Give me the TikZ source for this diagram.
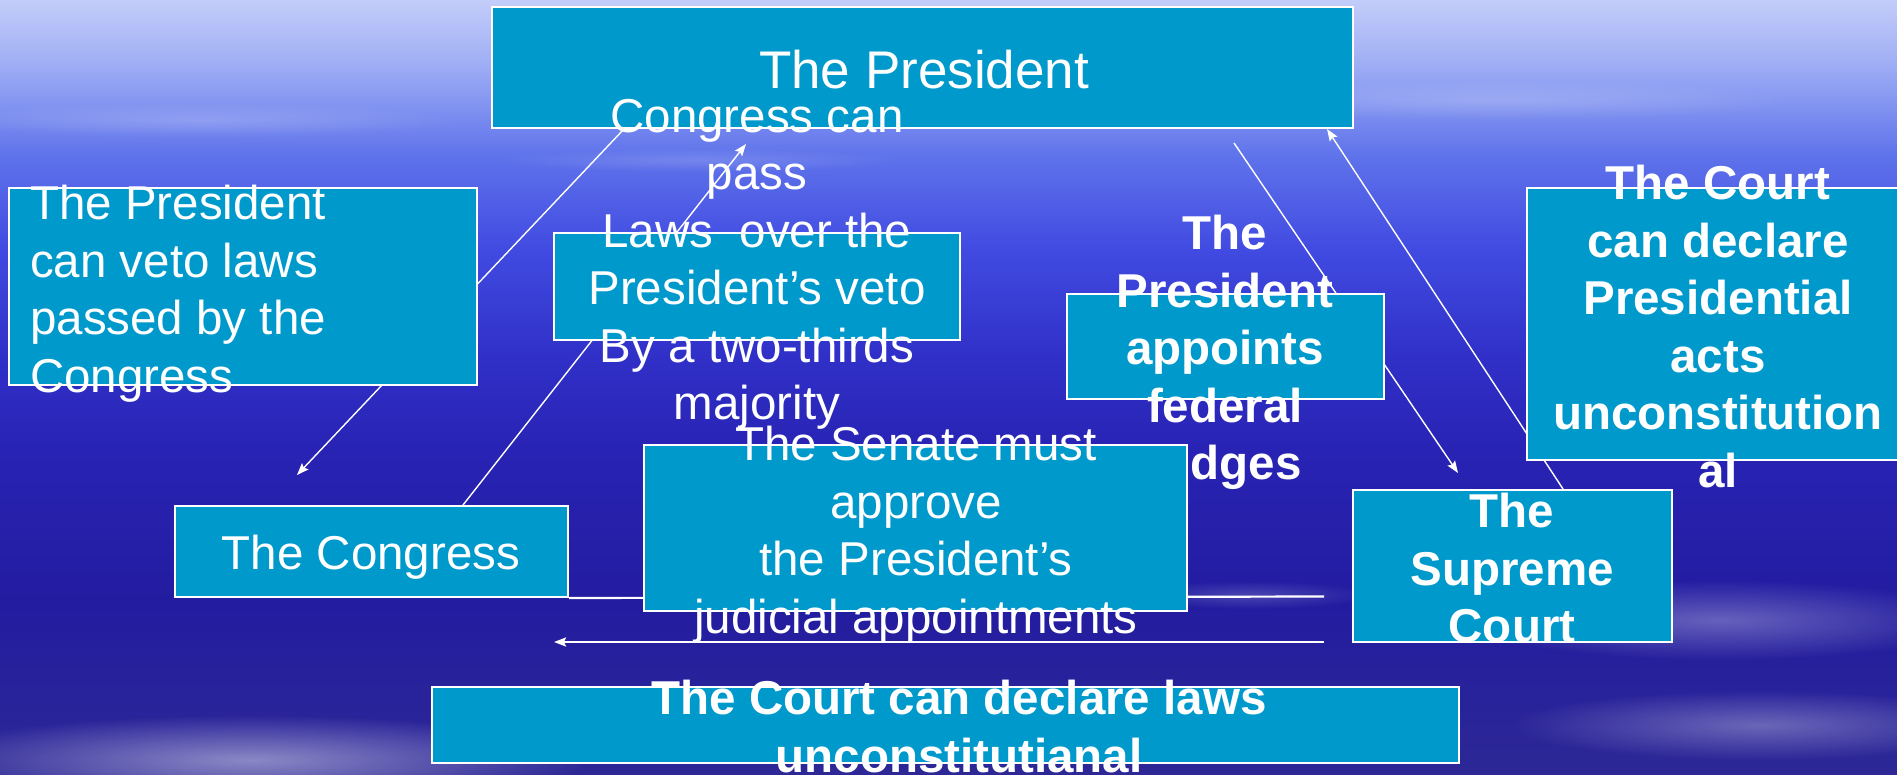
\documentclass[tikz,border=0pt]{standalone}
\usepackage{fontspec}
\setmainfont{Liberation Sans}
\usepackage{xcolor}
\definecolor{panelcyan}{HTML}{0099CC}
\definecolor{skytop}{HTML}{C3CDFA}
\definecolor{skypale}{HTML}{A0AFF5}
\definecolor{skysoft}{HTML}{5F73EB}
\definecolor{skyblue}{HTML}{414BE1}
\definecolor{seablue}{HTML}{3030C8}
\definecolor{seamid}{HTML}{2823B4}
\definecolor{seadark}{HTML}{231CA0}
\definecolor{seadeep}{HTML}{2D2896}
\usepackage{tikz}
\usetikzlibrary{arrows.meta, fadings, positioning}

\pgfdeclarelayer{sky}
\pgfdeclarelayer{wires}
\pgfsetlayers{sky,wires,main}

\pgfdeclareverticalshading{skyfade}{100bp}{%
  color(0bp)=(seadeep); color(25bp)=(seadeep); color(36bp)=(seadark);
  color(46bp)=(seamid); color(52bp)=(seablue); color(59bp)=(skyblue);
  color(65bp)=(skysoft); color(71bp)=(skypale); color(75bp)=(skytop);
  color(100bp)=(skytop)}
\tikzfading[name=softblob, inner color=transparent!0, outer color=transparent!100]

\begin{document}
\begin{tikzpicture}[
  x=1pt, y=-1pt,
  panel/.style={rectangle, fill=panelcyan, draw=white, line width=2pt,
                inner sep=0pt},
  txt/.style={text=white, font=\fontsize{47.5}{57.5}\selectfont,
              align=center, anchor=north, inner sep=0pt},
  txtb/.style={txt, font=\fontsize{47.5}{57.5}\selectfont\bfseries},
  wire/.style={draw=white, line width=1.4pt},
  arr/.style={wire, -{Stealth[length=12pt, width=9pt, inset=2pt]}},
  blot/.style={white, path fading=softblob}
]
  \useasboundingbox (0,0) rectangle (1897,775);

  \begin{pgfonlayer}{sky}
    \shade[shading=skyfade] (0,0) rectangle (1897,775);
    \fill[blot, opacity=.45] (250,760) ellipse (340 and 45);
    \fill[blot, opacity=.30] (1720,620) ellipse (260 and 40);
    \fill[blot, opacity=.30] (1760,725) ellipse (250 and 35);
    \fill[blot, opacity=.22] (1780,420) ellipse (200 and 20);
    \fill[blot, opacity=.18] (200,120) ellipse (260 and 18);
    \fill[blot, opacity=.18] (1500,100) ellipse (300 and 20);
    \fill[blot, opacity=.18] (1250,595) ellipse (120 and 14);
    \fill[blot, opacity=.15] (700,160) ellipse (200 and 12);
  \end{pgfonlayer}

  % boxes and their texts
  \node[panel, minimum width=861pt, minimum height=121pt] (pres) at (922.5,67.5) {};
  \node[txt, font=\fontsize{53}{60}\selectfont] (pres-t) at (924,50) {The President};

  \node[panel, minimum width=468pt, minimum height=197pt] (veto) at (243,286.5) {};
  \node[txt, align=left, anchor=north west] (veto-t) at (30,185)
    {The President\\can veto laws\\passed by the\\Congress};

  \node[panel, minimum width=406pt, minimum height=107pt] (override) at (757,286.5) {};
  \node[txt] (override-t) at (757,99)
    {Congress can\\pass\\Laws\ \ over the\\President’s veto\\By a two-thirds\\majority};

  \node[panel, minimum width=393pt, minimum height=91pt] (congress) at (371.5,551.5) {};
  \node[txt] (congress-t) at (371,535) {The Congress};

  \node[panel, minimum width=317pt, minimum height=105pt] (appoint) at (1225.5,346.5) {};
  \node[txtb] (appoint-t) at (1225,215)
    {The\\President\\appoints\\federal\\judges};

  \node[panel, minimum width=543pt, minimum height=166pt] (senate) at (915.5,528) {};
  \node[txt] (senate-t) at (916,426)
    {The Senate must\\approve\\the President’s\\judicial appointments};

  \node[panel, minimum width=1027pt, minimum height=76pt] (nullify) at (945.5,725) {};
  \node[txtb] (nullify-t) at (959,680)
    {The Court can declare laws\\unconstitutianal};

  \node[panel, minimum width=378pt, minimum height=272pt] (review) at (1716,324) {};
  \node[txtb] (review-t) at (1718,165)
    {The Court\\can declare\\Presidential\\acts\\unconstitution\\al};

  \node[panel, minimum width=319pt, minimum height=152pt] (court) at (1512.5,566) {};
  \node[txtb] (court-t) at (1512,493) {The\\Supreme\\Court};

  % free ends of the connectors
  \coordinate (veto-tip) at (297,475);
  \coordinate (override-tip) at (746,144);
  \coordinate (appoint-tail) at (1234,143);
  \coordinate (appoint-tip) at (1458,473);
  \coordinate (senate-end) at (1324,596.5);
  \coordinate (nullify-tail) at (1324,642);
  \coordinate (nullify-tip) at (554,642);

  \begin{pgfonlayer}{wires}
    \draw[arr] ([xshift=133pt]pres.south west) -- (veto-tip);
    \draw[arr] ([xshift=289pt]congress.north west) -- (override-tip);
    \draw[arr] (appoint-tail) -- (appoint-tip);
    \draw[arr] ([xshift=211pt]court.north west) -- ([xshift=-27pt]pres.south east);
    \draw[wire, line width=2.2pt] (congress.south east) -- (senate-end);
    \draw[arr, line width=2.2pt] (nullify-tail) -- (nullify-tip);
  \end{pgfonlayer}
\end{tikzpicture}
\end{document}
